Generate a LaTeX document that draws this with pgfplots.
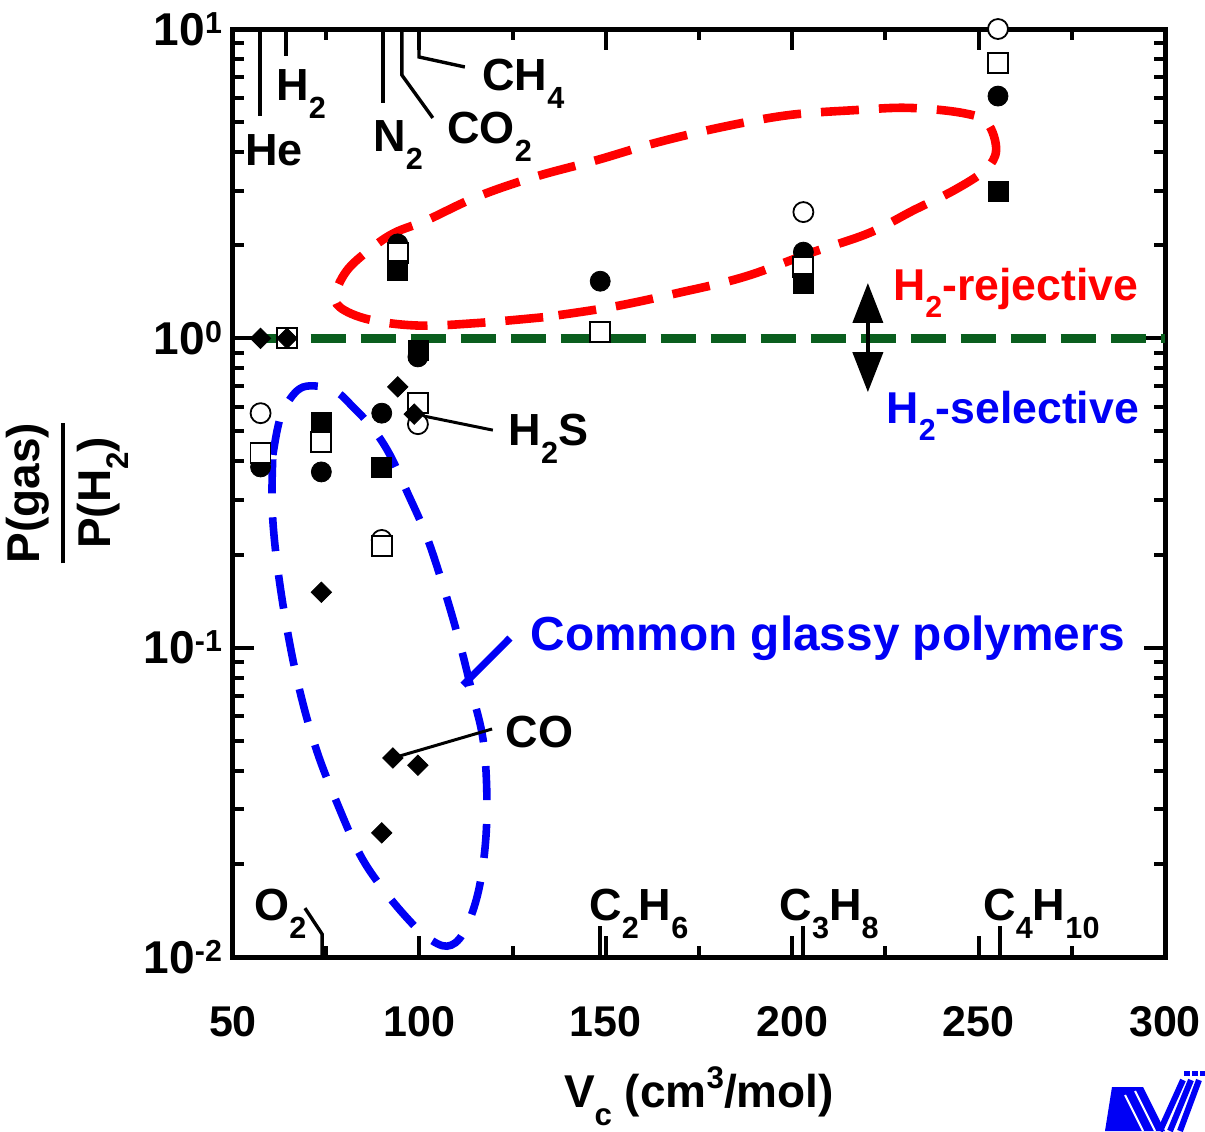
\documentclass[border=0pt]{standalone}
\usepackage{fontspec}
\setmainfont{Liberation Sans}
\usepackage{graphicx}
\usepackage{amsmath}
\usepackage{pgfplots}
\pgfplotsset{compat=1.18}
\usetikzlibrary{arrows.meta}
\definecolor{dgreen}{RGB}{10,94,30}
\definecolor{myblue}{RGB}{0,0,245}
\definecolor{myred}{RGB}{255,0,0}
\newcommand\sub[1]{\raisebox{-0.40em}{\scalebox{0.68}{#1}}}
\newcommand\tsup[1]{\raisebox{0.26em}{\scalebox{0.66}{#1}}}
\newcommand\lsup[1]{\raisebox{0.42em}{\scalebox{0.68}{#1}}}
\newcommand\gf{\fontsize{22.5}{26}\selectfont\bfseries}
\newcommand\bigf{\fontsize{23}{27}\selectfont\bfseries}
\newcommand\regf{\fontsize{22.3}{27}\selectfont\bfseries}
\newcommand\comf{\fontsize{23.9}{27}\selectfont\bfseries}

\pgfplotstableread{
x y
57.4 0.573
89.9 0.223
99.6 0.528
203 2.56
255.2 10.0
}\ocirc
\pgfplotstableread{
x y
57.4 0.384
73.7 0.370
89.9 0.573
94.2 2.02
99.6 0.871
148.5 1.53
203 1.90
255.2 6.07
}\fcirc
\pgfplotstableread{
x y
57.4 0.426
64.5 1.0
73.7 0.462
89.9 0.213
94.2 1.89
99.6 0.618
148.5 1.05
203 1.70
255.2 7.77
}\osq
\pgfplotstableread{
x y
73.7 0.536
89.9 0.384
94.2 1.66
99.6 0.916
203 1.50
255.2 2.99
}\fsq
\pgfplotstableread{
x y
57.4 1.0
64.5 1.0
73.7 0.151
89.9 0.0252
92.9 0.044
94.2 0.697
98.6 0.569
99.6 0.0417
}\dia

\begin{document}
\begin{tikzpicture}
\useasboundingbox (-116.5pt,-87pt) rectangle (486pt,478.5pt);
\begin{axis}[name=ax, at={(0,0)}, anchor=south west,
  scale only axis, width=466pt, height=464pt,
  xmin=50, xmax=300, ymode=log, ymin=0.01, ymax=10,
  xtick={50,100,150,200,250,300},
  xticklabels={50,100,150,200,250,300},
  minor x tick num=1,
  ytick={0.01,0.1,1,10},
  yticklabels={10\tsup{-2},10\tsup{-1},10\tsup{0},10\tsup{1}},
  tick align=inside,
  major tick length=10.5pt, minor tick length=5.5pt,
  tick style={black, line width=2pt},
  axis line style={line width=2.5pt},
  xticklabel style={font=\fontsize{21.5}{25}\selectfont\bfseries, yshift=-21pt},
  yticklabel style={font=\fontsize{23}{25}\selectfont\bfseries, xshift=-2pt},
  xlabel={V\sub{c} (cm\lsup{3}/mol)},
  xlabel style={font=\bigf, at={(axis description cs:0.5,-0.162)}, anchor=base},
  ylabel={$\genfrac{}{}{2pt}{0}{\text{P(gas)}}{\text{P(H\sub{2})}}$},
  ylabel style={font=\bigf, at={(axis description cs:-0.178,0.5)}, anchor=center},
  clip=false,
]
% H2 = 1 reference line
\addplot[dgreen, line width=4.6pt, dash pattern=on 17.5pt off 7.5pt, forget plot] coordinates {(57.4,1) (300,1)};
% data
\addplot[only marks, mark=*, mark size=5pt, mark options={draw=black, fill=white, line width=0.9pt}] table[x=x,y=y] {\ocirc};
\addplot[only marks, mark=*, mark size=5pt, mark options={draw=black, fill=black}] table[x=x,y=y] {\fcirc};
\addplot[only marks, mark=square*, mark size=5pt, mark options={draw=black, fill=white, line width=0.9pt}] table[x=x,y=y] {\osq};
\addplot[only marks, mark=square*, mark size=5pt, mark options={draw=black, fill=black}] table[x=x,y=y] {\fsq};
\addplot[only marks, mark=square*, mark size=3.6pt, mark options={draw=black, fill=black, rotate=45}] table[x=x,y=y] {\dia};
% H2-rejective region
\addplot[myred, line width=4.3pt, dash pattern=on 19pt off 10pt, smooth, tension=0.6] coordinates {
(133.2,1.17) (115.2,1.12) (99.6,1.10) (86.5,1.15) (78.7,1.26) (77.6,1.40) (80.6,1.66) (86.5,1.93) (93.2,2.19) (102,2.41) (115.2,2.86) (130.7,3.32) (147.6,3.77) (163.2,4.28) (181.2,4.82) (199.1,5.27) (217.1,5.47) (231.3,5.56) (245.8,5.35) (252.3,4.97) (254.7,4.06) (251.7,3.50) (243.4,3.01) (232.7,2.60) (220.6,2.19) (205,1.89) (187.1,1.58) (169.1,1.40) (151.1,1.26) (133.2,1.17)};
% glassy polymer region
\addplot[myblue, line width=3.8pt, dash pattern=on 17pt off 12pt, smooth, tension=0.6] coordinates {
(60.7,0.420) (62.1,0.521) (63.9,0.600) (68.8,0.696) (76.8,0.681) (82.2,0.600) (87.6,0.509) (92.1,0.420) (96.7,0.319) (102,0.228) (106.9,0.151) (110.9,0.1027) (114.1,0.0718) (117.1,0.0503) (118.1,0.0331) (117.6,0.0225) (115.5,0.0157) (111.7,0.0119) (107.4,0.01084) (102,0.0116) (96.7,0.01336) (90.2,0.0166) (84.1,0.0214) (77.9,0.0315) (72.5,0.0463) (68,0.0718) (64.5,0.115) (61.8,0.188) (60.5,0.285) (60.7,0.420)};
\addplot[myblue, line width=3.6pt] coordinates {(111.7,0.0757) (124.3,0.1074)};
% gas markers (top)
\addplot[black, line width=1.7pt] coordinates {(57.2,10) (57.2,5.23)};
\addplot[black, line width=1.7pt] coordinates {(64.2,10) (64.2,8.18)};
\addplot[black, line width=1.7pt] coordinates {(90.2,10) (90.2,5.76)};
\addplot[black, line width=1.7pt] coordinates {(95.3,10) (95.3,7.10) (103.6,5.16)};
\addplot[black, line width=1.7pt] coordinates {(99.9,10) (99.9,8.12) (112.2,7.54)};
% gas markers (bottom)
\addplot[black, line width=1.7pt] coordinates {(73.9,0.01) (73.9,0.01186) (69.3,0.01439)};
\addplot[black, line width=1.7pt] coordinates {(148.4,0.01) (148.4,0.0126)};
\addplot[black, line width=1.7pt] coordinates {(202.9,0.01) (202.9,0.0126)};
\addplot[black, line width=1.7pt] coordinates {(255.7,0.01) (255.7,0.0126)};
% leaders
\addplot[black, line width=1.5pt] coordinates {(98.6,0.569) (119.7,0.505)};
\addplot[black, line width=1.5pt] coordinates {(92.9,0.044) (119.5,0.0546)};
% double arrow
\draw[line width=2pt, {Triangle[width=15pt,length=20pt]}-{Triangle[width=15pt,length=20pt]}] (axis cs:220.3,1.51) -- (axis cs:220.3,0.670);
% labels
\begin{scope}[every node/.style={inner sep=0pt, anchor=base west, font=\gf}]
\node at (axis cs:53.2,3.634) {He};
\node at (axis cs:61.5,5.894) {H\sub{2}};
\node at (axis cs:87.55,4.033) {N\sub{2}};
\node at (axis cs:107.4,4.280) {CO\sub{2}};
\node at (axis cs:116.8,6.352) {CH\sub{4}};
\node at (axis cs:55.6,0.01316) {O\sub{2}};
\node at (axis cs:145.5,0.01316) {C\sub{2}H\sub{6}};
\node at (axis cs:196.5,0.01316) {C\sub{3}H\sub{8}};
\node at (axis cs:251.2,0.01316) {C\sub{4}H\sub{10}};
\node at (axis cs:123.8,0.4519) {H\sub{2}S};
\node at (axis cs:123.0,0.04771) {CO};
\node[font=\regf, text=myred] at (axis cs:227.0,1.330) {H\sub{2}-rejective};
\node[font=\regf, text=myblue] at (axis cs:225.2,0.5322) {H\sub{2}-selective};
\node[font=\comf, text=myblue] at (axis cs:129.7,0.09822) {Common glassy polymers};
\end{scope}
\end{axis}
% logo (decoration, partly cut off at the page edge)
\fill[myblue] (436pt,-87pt) -- (439.5pt,-65pt) -- (455pt,-65pt) -- (466pt,-87pt) -- cycle;
\draw[white, line width=1pt] (446pt,-69pt) -- (455pt,-87pt);
\draw[white, line width=1pt] (451pt,-67pt) -- (461pt,-87pt);
\foreach \k in {0,1,2} {
  \draw[myblue, line width=3pt] ({463.5pt+5*\k pt},-87pt) -- ({475pt+4*\k pt},-61.5pt);
  \fill[myblue] ({475.5pt+4*\k pt},-57pt) rectangle ({478.5pt+4*\k pt},-59.5pt);
}
\end{tikzpicture}
\end{document}
